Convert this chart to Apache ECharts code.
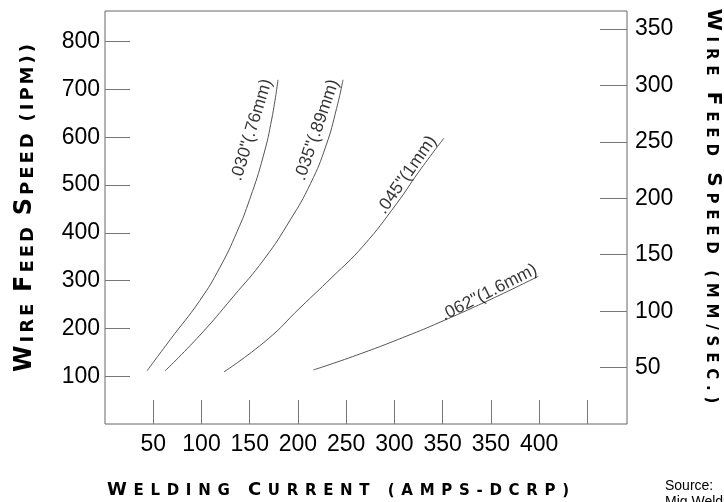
<!DOCTYPE html>
<html><head><meta charset="utf-8">
<script src="https://cdn.jsdelivr.net/npm/echarts@6/dist/echarts.min.js"></script>
<style>html,body{margin:0;padding:0;background:#fff}#c{width:724px;height:502px}</style>
</head><body><div id="c"></div>
<script>
// ---- data ----
const xTickLabels = ['', '50', '100', '150', '200', '250', '300', '350', '350', '400', ''];
const wire030 = [[43.5,111],[67.4,176],[98.5,259],[119.2,328],[136.8,402],[150.3,472],[164,560],[173,640],[179.3,720]];
const wire035 = [[62.2,111],[98.5,186],[132.7,266],[165,345],[192,427],[213,503],[229,582],[240,660],[246.7,720]];
const wire045 = [[123.3,109],[167.9,176],[202.1,243],[235.3,307],[267.4,372],[302.6,462],[325,527],[351.3,598]];
const wire062 = [[215.9,113],[260.8,144],[312.7,184],[347.2,213],[399.0,260],[449.1,309]];
const curveNames = ['.030"(.76mm)', '.035"(.89mm)', '.045"(1mm)', '.062"(1.6mm)'];
const curveLabelAt = [[152,615],[219.7,615],[312.7,521],[398,275]];
const curveLabelAngle = [73, 71, 55, 27];

const NUMF = "'Liberation Sans',Arial,sans-serif";
const TITLEF = "'DejaVu Sans',sans-serif";

function smallCaps(str, big, small, pad) {
  let s = '';
  for (const c of str) {
    if (c === ' ') s += '{sp| }';
    else if (c >= 'A' && c <= 'Z') s += '{b|' + c + '}';
    else s += '{s|' + c.toUpperCase() + '}';
  }
  return {
    text: s,
    rich: {
      b: {fontFamily: TITLEF, fontWeight: 'bold', fontSize: big, padding: [0, pad], verticalAlign: 'bottom', fill: '#000'},
      s: {fontFamily: TITLEF, fontWeight: 'bold', fontSize: small, padding: [0, pad], verticalAlign: 'bottom', fill: '#000'},
      sp: {fontFamily: TITLEF, fontSize: small, padding: [0, pad], verticalAlign: 'bottom'}
    }
  };
}

const chart = echarts.init(document.getElementById('c'), null, {renderer: 'canvas'});
const lineColor = '#555';
function curve(data) {
  return {type: 'line', data: data, smooth: 0.5, showSymbol: false, symbol: 'none',
    lineStyle: {color: lineColor, width: 1}, silent: true, z: 3};
}
const tLeft = smallCaps('Wire Feed Speed (ipm))', 24, 18, 1.5);
const tRight = smallCaps('Wire Feed Speed (mm/sec.)', 20, 15, 2.9);
const tBottom = smallCaps('Welding Current (amps-dcrp)', 18, 15, 3.35);

chart.setOption({
  animation: false,
  backgroundColor: '#fff',
  grid: {left: 105, right: 97, top: 11, bottom: 78, show: true, borderColor: '#666', borderWidth: 1, containLabel: false},
  xAxis: {
    type: 'value', min: 0, max: 541, interval: 50,
    axisLine: {show: false},
    axisTick: {show: true, inside: true, length: 24, lineStyle: {color: '#777'}},
    splitLine: {show: false},
    axisLabel: {margin: 9, fontFamily: NUMF, fontSize: 23, color: '#000',
      showMinLabel: false, showMaxLabel: false,
      formatter: v => xTickLabels[Math.round(v / 50)] || ''}
  },
  yAxis: [{
    type: 'value', min: 0, max: 864, interval: 100, position: 'left',
    axisLine: {show: false},
    axisTick: {show: true, inside: true, length: 25, lineStyle: {color: '#777'}},
    splitLine: {show: false},
    axisLabel: {margin: 5, fontFamily: NUMF, fontSize: 23, color: '#000', showMinLabel: false, showMaxLabel: false}
  }, {
    type: 'value', min: 0, max: 366, interval: 50, position: 'right',
    axisLine: {show: false},
    axisTick: {show: true, inside: true, length: 27, lineStyle: {color: '#777'}},
    splitLine: {show: false},
    axisLabel: {margin: 8, fontFamily: NUMF, fontSize: 23, color: '#000', showMinLabel: false, showMaxLabel: false}
  }],
  series: [
    curve(wire030), curve(wire035), curve(wire045), curve(wire062),
    {
      type: 'scatter', symbolSize: 0, silent: true, z: 4,
      data: curveNames.map((n, i) => ({value: curveLabelAt[i], name: n,
        label: {rotate: curveLabelAngle[i]}})),
      label: {show: true, position: 'inside', formatter: p => p.name,
        fontFamily: NUMF, fontSize: 17.5, color: '#000'}
    }
  ],
  graphic: [
    {type: 'text', x: 25, y: 208, rotation: Math.PI / 2, z: 10,
      style: {text: tLeft.text, rich: tLeft.rich, align: 'center', verticalAlign: 'middle'}},
    {type: 'text', x: 713, y: 206, rotation: -Math.PI / 2, z: 10,
      style: {text: tRight.text, rich: tRight.rich, align: 'center', verticalAlign: 'middle'}},
    {type: 'text', x: 338, y: 490, z: 10,
      style: {text: tBottom.text, rich: tBottom.rich, align: 'center', verticalAlign: 'middle'}},
    {type: 'text', x: 665, y: 479, z: 10,
      style: {text: 'Source:', font: "14px " + NUMF, fill: '#000', align: 'left', verticalAlign: 'top'}},
    {type: 'text', x: 665, y: 495, z: 10,
      style: {text: 'Mig Welding', font: "14px " + NUMF, fill: '#000', align: 'left', verticalAlign: 'top'}}
  ]
});
</script></body></html>
